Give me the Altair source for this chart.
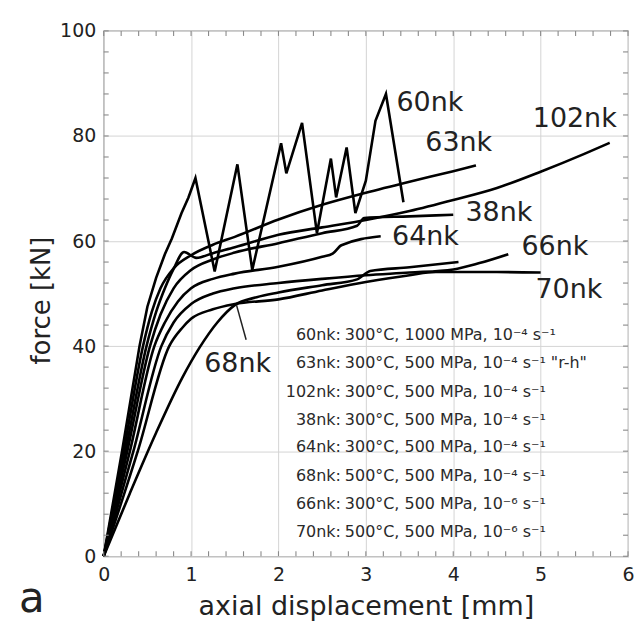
import altair as alt
import pandas as pd

# ---------------- data ----------------
runs = ["60nk", "63nk", "102nk", "38nk", "64nk", "68nk", "66nk", "70nk"]

x_60nk = [0, 0.21, 0.41, 0.5, 0.6, 0.7, 0.78, 0.89, 0.97, 1.05, 1.27, 1.53, 1.70, 2.03, 2.09,
          2.27, 2.44, 2.60, 2.66, 2.78, 2.88, 3.0, 3.11, 3.23, 3.43]
y_60nk = [0, 20, 40, 47.5, 53, 57.5, 60.5, 65.3, 68.3, 72.0, 54.2, 74.6, 54.5, 78.6, 72.9,
          82.5, 61.5, 75.7, 68.3, 77.8, 65.3, 71.5, 82.9, 88.0, 67.4]

x_63nk = [0, 0.23, 0.45, 0.55, 0.65, 0.8, 1.0, 1.25, 1.5, 2.0, 2.5, 3.0, 3.5, 4.0, 4.26]
y_63nk = [0, 20, 40, 46.5, 51, 54.8, 57.3, 59.3, 60.8, 64.1, 66.9, 69.2, 71.3, 73.3, 74.4]

x_102nk = [0, 0.25, 0.49, 0.6, 0.7, 0.8, 0.92, 1.06, 1.25, 1.5, 2.0, 2.5, 3.0, 3.5, 4.0, 4.5,
           5.0, 5.5, 5.79]
y_102nk = [0, 20, 40, 46.5, 51, 54.7, 57.9, 56.8, 57.7, 58.8, 61.2, 62.6, 64.0, 65.7, 67.8, 70.1,
           73.2, 76.6, 78.7]

x_38nk = [0, 0.27, 0.53, 0.65, 0.8, 1.0, 1.25, 1.5, 2.0, 2.5, 2.9, 2.98, 3.5, 4.0]
y_38nk = [0, 20, 40, 46, 51, 54.5, 56.5, 57.8, 59.6, 61.5, 62.9, 64.4, 64.7, 65.0]

x_64nk = [0, 0.3, 0.58, 0.7, 0.85, 1.0, 1.25, 1.5, 2.0, 2.5, 2.62, 2.72, 3.17]
y_64nk = [0, 20, 40, 44.5, 48.5, 51, 52.8, 53.8, 55.1, 57.0, 57.6, 59.2, 60.9]

x_68nk = [0, 0.3, 0.6, 0.9, 1.1, 1.3, 1.5, 1.75, 2.0, 2.5, 2.9, 3.05, 3.5, 4.06]
y_68nk = [0, 12, 23.5, 34, 39.8, 44.5, 47.8, 49.3, 50.2, 51.6, 52.7, 54.3, 55.0, 56.0]

x_66nk = [0, 0.34, 0.66, 0.8, 1.0, 1.25, 1.5, 2.0, 2.5, 3.0, 3.5, 4.0, 4.3, 4.63]
y_66nk = [0, 20, 40, 44.5, 48, 50, 51, 52, 52.8, 53.5, 54.0, 54.6, 55.8, 57.5]

x_70nk = [0, 0.39, 0.75, 0.9, 1.0, 1.25, 1.5, 2.0, 2.5, 3.0, 3.5, 3.8, 4.5, 5.0]
y_70nk = [0, 20, 40, 43.5, 45.2, 47, 48, 48.9, 50.6, 52.2, 53.5, 54.1, 54.1, 54.0]

curve_x = {"60nk": x_60nk, "63nk": x_63nk, "102nk": x_102nk, "38nk": x_38nk,
           "64nk": x_64nk, "68nk": x_68nk, "66nk": x_66nk, "70nk": x_70nk}
curve_y = {"60nk": y_60nk, "63nk": y_63nk, "102nk": y_102nk, "38nk": y_38nk,
           "64nk": y_64nk, "68nk": y_68nk, "66nk": y_66nk, "70nk": y_70nk}

# curve labels
label_names = ["60nk", "63nk", "102nk", "38nk", "64nk", "66nk", "70nk", "68nk"]
label_x = [3.35, 3.68, 4.91, 4.14, 3.30, 4.78, 4.94, 1.15]
label_y = [86.3, 78.7, 83.3, 65.3, 60.7, 58.8, 50.7, 36.6]

# leader line of the 68nk label
leader_x = [1.63]
leader_y = [41.2]
leader_x2 = [1.52]
leader_y2 = [47.8]

# legend text block
legend_names = ["60nk:", "63nk:", "102nk:", "38nk:", "64nk:", "68nk:", "66nk:", "70nk:"]
legend_conditions = [
    "300°C, 1000 MPa, 10⁻⁴ s⁻¹",
    "300°C, 500 MPa, 10⁻⁴ s⁻¹ \"r-h\"",
    "300°C, 500 MPa, 10⁻⁴ s⁻¹",
    "300°C, 500 MPa, 10⁻⁴ s⁻¹",
    "300°C, 500 MPa, 10⁻⁴ s⁻¹",
    "500°C, 500 MPa, 10⁻⁴ s⁻¹",
    "300°C, 500 MPa, 10⁻⁶ s⁻¹",
    "500°C, 500 MPa, 10⁻⁶ s⁻¹",
]
legend_x = [2.714] * 8
legend_y = [42.1, 36.8, 31.3, 26.0, 20.7, 15.2, 9.9, 4.6]

x_ticks = [0, 1, 2, 3, 4, 5, 6]
y_ticks = [0, 20, 40, 60, 80, 100]
x_minor = [i / 5 for i in range(31)]
y_minor = [4 * i for i in range(26)]

# ---------------- tables ----------------
rows = []
for r in runs:
    for i, (a, b) in enumerate(zip(curve_x[r], curve_y[r])):
        rows.append({"run": r, "d": a, "f": b, "i": i})
df = pd.DataFrame(rows)
df60 = df[df.run == "60nk"]
dfo = df[df.run != "60nk"]

lab_df = pd.DataFrame({"name": label_names, "lx": label_x, "ly": label_y})
lead_df = pd.DataFrame({"x1": leader_x, "y1": leader_y, "x2": leader_x2, "y2": leader_y2})
leg_df = pd.DataFrame({"n": legend_names, "c": legend_conditions, "lx": legend_x, "ly": legend_y})
xm_df = pd.DataFrame({"mx": x_minor})
ym_df = pd.DataFrame({"my": y_minor})

# ---------------- chart ----------------
W, H = 526, 527
FONT = "DejaVu Sans"
TXT = "#222222"
TICK = "#8a8a8a"
TL = 5
xs = alt.Scale(domain=[0, 6], nice=False, zero=False)
ys = alt.Scale(domain=[0, 100], nice=False, zero=False)

x_main = alt.Axis(orient="bottom", values=x_ticks, format="d", grid=True, gridColor="#d4d4d4",
                  gridWidth=1, ticks=False, domain=False, labelFont=FONT, labelFontSize=19,
                  labelColor=TXT, labelPadding=9, labelFlush=False,
                  title="axial displacement [mm]", titleFont=FONT, titleFontSize=27,
                  titleFontWeight="normal", titleColor=TXT, titleX=W / 2, titleY=58,
                  titleBaseline="alphabetic", titleAlign="center")
y_main = alt.Axis(orient="left", values=y_ticks, format="d", grid=True, gridColor="#d4d4d4",
                  gridWidth=1, ticks=False, domain=False, labelFont=FONT, labelFontSize=19,
                  labelColor=TXT, labelPadding=8, labelFlush=False,
                  title="force [kN]", titleFont=FONT, titleFontSize=26,
                  titleFontWeight="normal", titleColor=TXT, titleX=-54, titleY=270,
                  titleAngle=270, titleBaseline="alphabetic", titleAlign="center")


def X(field):
    return alt.X(field, scale=xs, axis=x_main, title="axial displacement [mm]")


def Y(field):
    return alt.Y(field, scale=ys, axis=y_main, title="force [kN]")


tick_style = dict(color=TICK, size=TL, thickness=1.1, opacity=1)
tick_bottom = alt.Chart(xm_df).mark_tick(orient="vertical", **tick_style).encode(
    x=X("mx:Q"), y=alt.value(H - TL / 2))
tick_top = alt.Chart(xm_df).mark_tick(orient="vertical", **tick_style).encode(
    x=X("mx:Q"), y=alt.value(TL / 2))
tick_left = alt.Chart(ym_df).mark_tick(orient="horizontal", **tick_style).encode(
    y=Y("my:Q"), x=alt.value(TL / 2))
tick_right = alt.Chart(ym_df).mark_tick(orient="horizontal", **tick_style).encode(
    y=Y("my:Q"), x=alt.value(W - TL / 2))

lines = alt.Chart(dfo).mark_line(color="black", strokeWidth=2.6, interpolate="monotone").encode(
    x=X("d:Q"), y=Y("f:Q"), detail="run:N", order="i:Q",
)
line60 = alt.Chart(df60).mark_line(color="black", strokeWidth=2.6).encode(
    x=X("d:Q"), y=Y("f:Q"), order="i:Q",
)
labels = alt.Chart(lab_df).mark_text(font=FONT, fontSize=27, align="left", baseline="middle",
                                     color=TXT).encode(
    x=X("lx:Q"), y=Y("ly:Q"), text="name:N",
)
leader = alt.Chart(lead_df).mark_rule(color=TXT, strokeWidth=1.5).encode(
    x=X("x1:Q"), y=Y("y1:Q"), x2="x2:Q", y2="y2:Q",
)
leg_names = alt.Chart(leg_df).mark_text(font=FONT, fontSize=16, align="right", baseline="middle",
                                        color="#2a2a2a").encode(
    x=X("lx:Q"), y=Y("ly:Q"), text="n:N",
)
leg_conds = alt.Chart(leg_df).mark_text(font=FONT, fontSize=16, align="left", baseline="middle",
                                        dx=4, color="#2a2a2a").encode(
    x=X("lx:Q"), y=Y("ly:Q"), text="c:N",
)
panel = alt.Chart(pd.DataFrame({"t": ["a"]})).mark_text(
    font=FONT, fontSize=42, align="left", baseline="alphabetic", color=TXT).encode(
    x=alt.value(-85), y=alt.value(H + 56), text="t:N")

chart = alt.layer(lines, line60, labels, leader, leg_names, leg_conds,
                  tick_bottom, tick_top, tick_left, tick_right, panel).properties(
    width=W, height=H,
    autosize=alt.AutoSizeParams(type="none"),
    padding={"left": 96, "top": 22, "right": 6, "bottom": 70},
    background="white",
).configure_view(stroke="#8a8a8a", strokeWidth=1.2)

chart.save("out.html", embed_options={"renderer": "svg", "actions": False})
